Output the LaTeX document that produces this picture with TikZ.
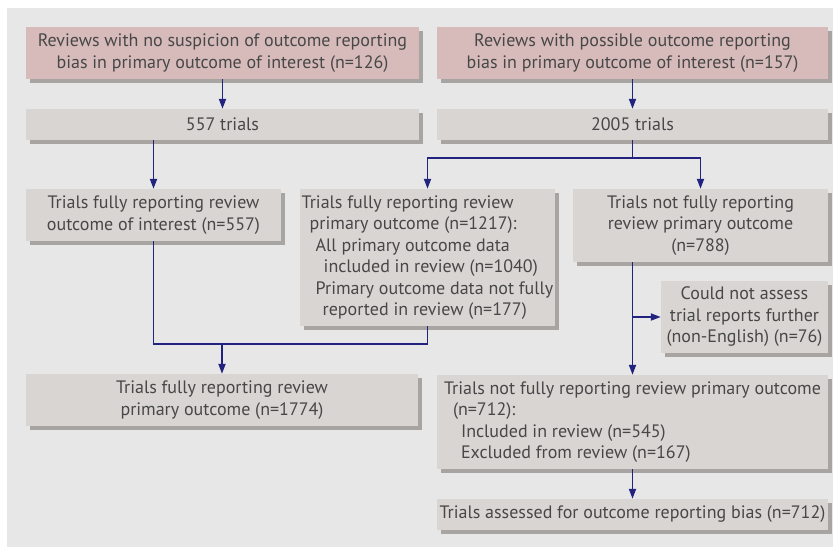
\documentclass[tikz,border=0pt]{standalone}
\usepackage{fontspec}
\setmainfont{PT Sans}
\usetikzlibrary{arrows.meta,shadows}
\definecolor{bggray}{HTML}{E7E7E7}
\definecolor{boxgray}{HTML}{D9D5D3}
\definecolor{boxpink}{HTML}{D7BBBB}
\definecolor{shadowgray}{HTML}{A8A4A2}
\definecolor{arrowblue}{HTML}{22237E}
\definecolor{txtgray}{HTML}{474747}
\tikzset{
  flowbox/.style={fill=boxgray, inner sep=0pt, align=center, text=txtgray,
    font=\fontsize{18}{21.5}\selectfont,
    drop shadow={shadow xshift=4pt, shadow yshift=-4pt, fill=shadowgray, opacity=1}},
  pinkbox/.style={flowbox, fill=boxpink},
  conn/.style={draw=arrowblue, line width=1.8pt},
  arr/.style={conn, -{Triangle[length=10pt,width=7pt]}}
}
\begin{document}
\begin{tikzpicture}[x=1pt,y=-1pt]
\useasboundingbox (0,0) rectangle (833,547);
\fill[white] (0,0) rectangle (833,547);
\fill[bggray] (7,8) rectangle (833,547);
\node[pinkbox, minimum width=393pt, minimum height=52pt] (A) at (222.5,53)
  {Reviews with no suspicion of outcome reporting\\bias in primary outcome of interest (n=126)};
\node[pinkbox, minimum width=391pt, minimum height=52pt] (B) at (632.5,53)
  {Reviews with possible outcome reporting\\bias in primary outcome of interest (n=157)};
\node[flowbox, minimum width=393pt, minimum height=31pt] (C) at (222.5,124.5) {557 trials};
\node[flowbox, minimum width=391pt, minimum height=31pt] (D) at (632.5,124.5) {2005 trials};
\node[flowbox, minimum width=255pt, minimum height=52pt] (E) at (153.5,215)
  {Trials fully reporting review\\outcome of interest (n=557)};
\node[flowbox, minimum width=255pt, minimum height=137pt, align=left] (F) at (427.5,257.5)
  {Trials fully reporting review\\
   \hspace*{8pt}primary outcome (n=1217):\\
   \hspace*{14pt}All primary outcome data\\
   \hspace*{22pt}included in review (n=1040)\\
   \hspace*{14pt}Primary outcome data not fully\\
   \hspace*{21pt}reported in review (n=177)};
\node[flowbox, minimum width=255pt, minimum height=73pt] (G) at (700.5,225.5)
  {Trials not fully reporting\\review primary outcome\\(n=788)};
\node[flowbox, minimum width=167pt, minimum height=72pt] (H) at (744.5,317)
  {Could not assess\\trial reports further\\(non-English) (n=76)};
\node[flowbox, minimum width=392pt, minimum height=52pt] (I) at (222,400)
  {Trials fully reporting review\\primary outcome (n=1774)};
\node[flowbox, minimum width=391pt, minimum height=94pt, align=left] (J) at (632.5,422)
  {Trials not fully reporting review primary outcome\\
   \hspace*{9pt}(n=712):\\
   \hspace*{17pt}Included in review (n=545)\\
   \hspace*{17pt}Excluded from review (n=167)};
\node[flowbox, minimum width=391pt, minimum height=31pt] (K) at (632.5,514.5)
  {Trials assessed for outcome reporting bias (n=712)};
\coordinate (mrg) at (222,344);
\coordinate (brn) at (633,317);
\draw[arr] (A) -- (C);
\draw[arr] (B) -- (D);
\draw[arr] (E.north |- C.south) -- (E.north);
\draw[arr] (D.south) -- ++(0,18) -| (F.north);
\draw[arr] (D.south) -- ++(0,18) -| (G.north);
\draw[conn] (E.south) |- (mrg) -| (F.south);
\draw[arr] (mrg) -- (I.north);
\draw[arr] (J.north |- G.south) -- (J.north);
\draw[arr] (brn) -- (H.west);
\draw[arr] (J) -- (K);
\end{tikzpicture}
\end{document}
